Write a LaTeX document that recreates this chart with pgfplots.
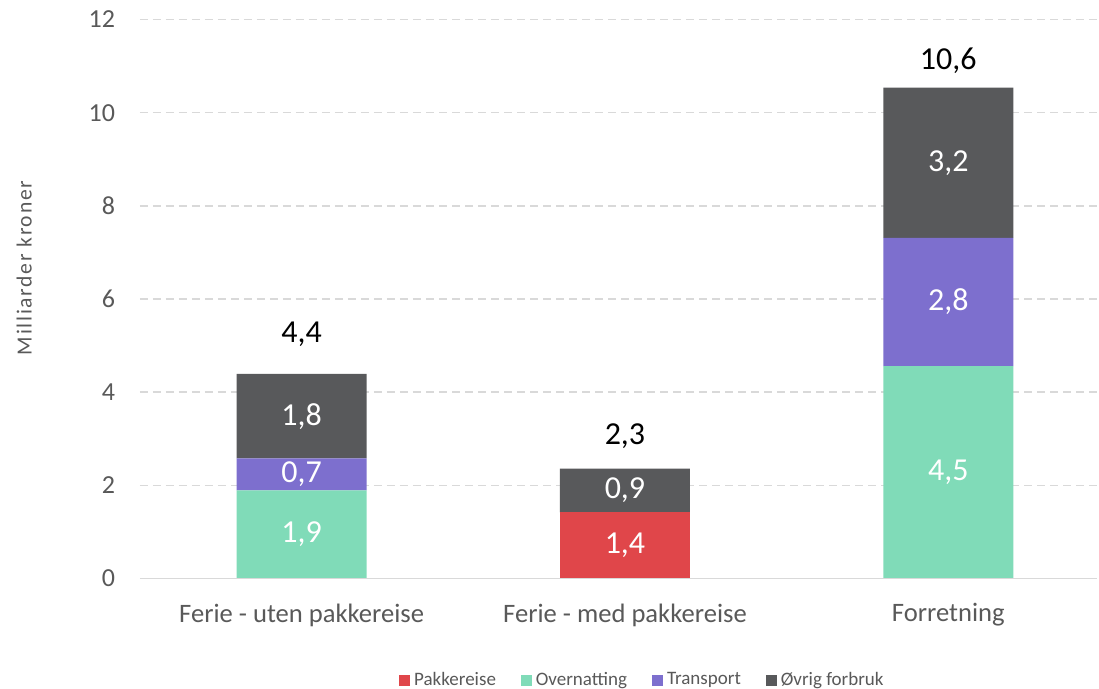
\documentclass[border=0pt]{standalone}
\usepackage{pgfplots}
\pgfplotsset{compat=1.18}
\usepackage{pgfplotstable}
\usepackage{fontspec}
\setmainfont{Carlito}
\newfontfamily\ylfont[LetterSpace=8]{Carlito}
\definecolor{cPak}{RGB}{224,70,74}
\definecolor{cOve}{RGB}{128,219,184}
\definecolor{cTra}{RGB}{125,111,206}
\definecolor{cOvr}{RGB}{88,89,91}
\definecolor{cGrid}{RGB}{217,217,217}
\definecolor{cText}{RGB}{89,89,89}

% stacked segments (x = category index)
\pgfplotstableread{
x y
0 0
1 1.42
2 0
}\tPak
\pgfplotstableread{
x y
0 1.89
1 0
2 4.56
}\tOve
\pgfplotstableread{
x y
0 0.69
1 0
2 2.75
}\tTra
\pgfplotstableread{
x y
0 1.81
1 0.94
2 3.23
}\tOvr
% segment labels at segment middles
\pgfplotstableread{
x y lab
0 0.945 1,9
2 2.28 4,5
1 0.71 1,4
0 2.235 0,7
2 5.935 2,8
0 3.485 1,8
1 1.89 0,9
2 8.925 3,2
}\tSegLab
% totals (label baselines)
\pgfplotstableread{
x y lab
0 5.056 4,4
1 2.866 2,3
2 10.917 10,6
}\tTot

\begin{document}
\begin{tikzpicture}
\pgfplotsset{
  common/.style={
    at={(0,0)}, anchor=south west,
    scale only axis, width=478.5pt, height=279.5pt,
    xmin=-0.5, xmax=2.46, ymin=0, ymax=12,
    clip=false,
  }
}
\begin{axis}[
  common,
  ybar stacked, bar width=65pt,
  xtick={0,1,2},
  xticklabels={Ferie - uten pakkereise, Ferie - med pakkereise, Forretning},
  ytick={0,2,...,12},
  axis line style={draw=none},
  major tick length=0pt,
  ymajorgrids,
  grid style={cGrid, line width=0.75pt, dash pattern=on 4pt off 2.5pt},
  tick label style={text=cText},
  xticklabel style={font=\fontsize{13.3}{15}\selectfont, yshift=-9pt},
  yticklabel style={font=\fontsize{13}{15}\selectfont, xshift=-9pt},
  /pgf/number format/assume math mode=true,
  ylabel={Milliarder kroner},
  ylabel style={at={(axis description cs:-0.121,0.5555)}, anchor=center, font=\ylfont\fontsize{10.8}{13}\selectfont, text=cText},
  legend style={at={(0.526,-0.1816)}, anchor=center, draw=none, legend columns=4,
    font=\fontsize{9.5}{11}\selectfont, text=cText,
    /tikz/every even column/.append style={column sep=10.5pt}},
  legend image code/.code={\fill[#1] (0pt,-2.75pt) rectangle (5.5pt,2.75pt);},
]
\draw[cGrid, line width=0.75pt] (axis cs:-0.5,0) -- (axis cs:2.46,0);
\addplot[fill=cPak, draw=none] table[x=x, y=y] {\tPak};
\addlegendentry{Pakkereise}
\addplot[fill=cOve, draw=none] table[x=x, y=y] {\tOve};
\addlegendentry{Overnatting}
\addplot[fill=cTra, draw=none] table[x=x, y=y] {\tTra};
\addlegendentry{Transport}
\addplot[fill=cOvr, draw=none] table[x=x, y=y] {\tOvr};
\addlegendentry{Øvrig forbruk}
\end{axis}
\begin{axis}[common, hide axis]
\addplot[only marks, mark=none, point meta=explicit symbolic,
  nodes near coords={\pgfplotspointmeta},
  every node near coord/.append style={anchor=center, text=white, font=\fontsize{16}{18}\selectfont}]
  table[x=x, y=y, meta=lab] {\tSegLab};
\addplot[only marks, mark=none, point meta=explicit symbolic,
  nodes near coords={\pgfplotspointmeta},
  every node near coord/.append style={anchor=base, inner sep=0pt, text=black, font=\fontsize{16}{18}\selectfont}]
  table[x=x, y=y, meta=lab] {\tTot};
\end{axis}
\pgfresetboundingbox
\path (-70pt,-55.25pt) rectangle (479.5pt,289.25pt);
\end{tikzpicture}
\end{document}
